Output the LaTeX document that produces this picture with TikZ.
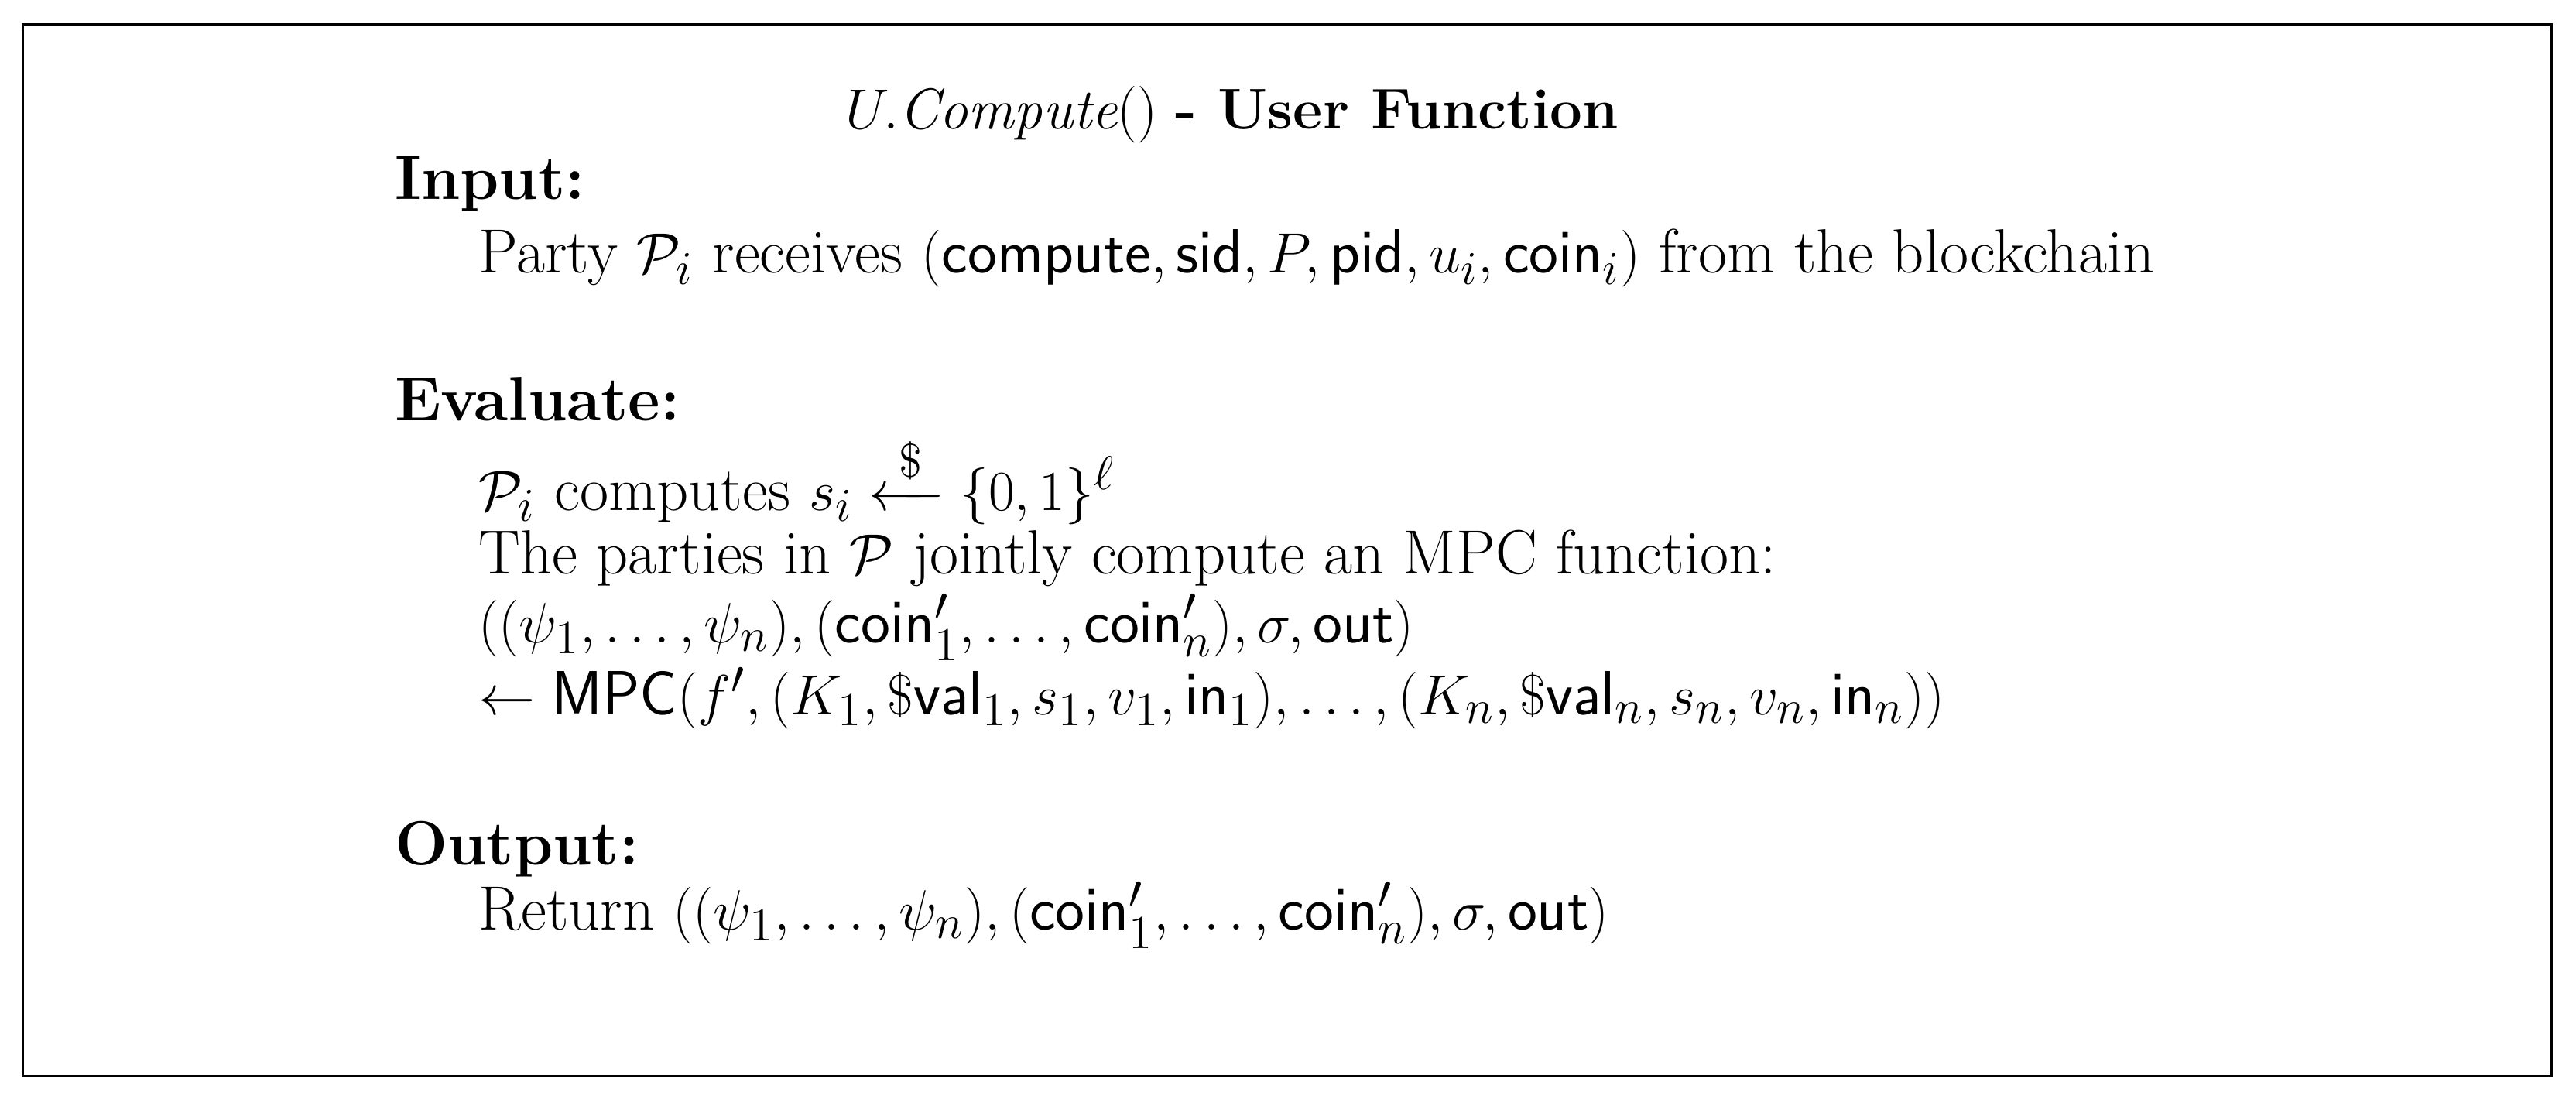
\documentclass[tikz,border=0pt]{standalone}
\usepackage{amsmath,amssymb}
\usepackage{fontspec}
\begin{document}
\begin{tikzpicture}[x=0.5pt,y=-0.5pt,
  txt/.style={anchor=west,inner sep=0pt,font=\fontsize{19}{23}\selectfont}]
\useasboundingbox (0,0) rectangle (1568,669);
\draw[line width=0.8pt] (14,15) rectangle (1553,655);
\node[txt,anchor=center,font=\fontsize{17.5}{21}\selectfont] (title) at (750,70) {$U.\mathit{Compute}()$ \textbf{- User Function}};
\node[txt] (in) at (240,112) {\textbf{Input:}};
\node[txt] (l1) at (291,157) {Party $\mathcal{P}_i$ receives $(\mathsf{compute},\mathsf{sid},P,\mathsf{pid},u_i,\mathsf{coin}_i)$ from the blockchain};
\node[txt] (ev) at (240,243) {\textbf{Evaluate:}};
\node[txt] (l2) at (291,292) {$\mathcal{P}_i$ computes $s_i \xleftarrow{\,\$\,} \{0,1\}^\ell$};
\node[txt] (l3) at (291,340) {The parties in $\mathcal{P}$ jointly compute an MPC function:};
\node[txt] (l4) at (291,382) {$((\psi_1,\ldots,\psi_n),(\mathsf{coin}'_1,\ldots,\mathsf{coin}'_n),\sigma,\mathsf{out})$};
\node[txt] (l5) at (291,425) {$\leftarrow \mathsf{MPC}(f',(K_1,\mathsf{\$val}_1,s_1,v_1,\mathsf{in}_1),\ldots,(K_n,\mathsf{\$val}_n,s_n,v_n,\mathsf{in}_n))$};
\node[txt] (out) at (240,517) {\textbf{Output:}};
\node[txt] (l6) at (291,557) {Return $((\psi_1,\ldots,\psi_n),(\mathsf{coin}'_1,\ldots,\mathsf{coin}'_n),\sigma,\mathsf{out})$};
\end{tikzpicture}
\end{document}
